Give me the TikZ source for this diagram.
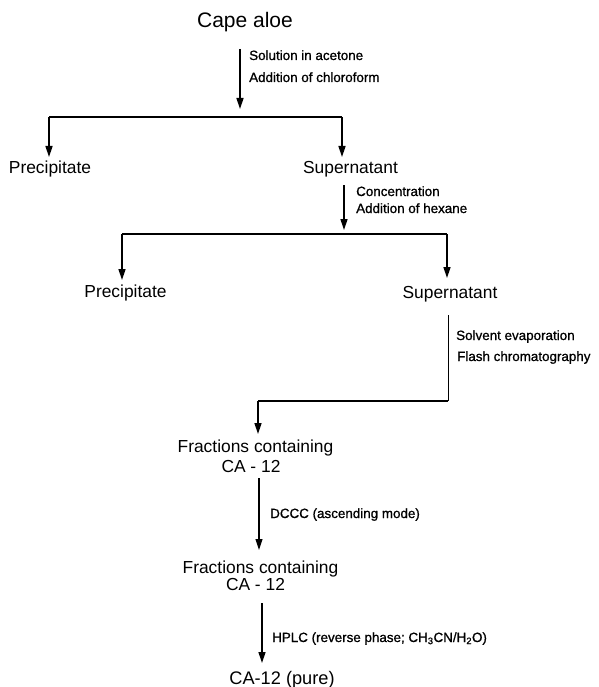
\documentclass[tikz,border=0pt]{standalone}
\usepackage{fontspec}
\setmainfont{Liberation Sans}
\newfontfamily\steplabelfont[FakeBold=0.9]{Liberation Sans}
\usetikzlibrary{arrows.meta}
\begin{document}
\begin{tikzpicture}[x=1pt,y=-1pt,
  main/.style={font=\fontsize{17.4}{20}\selectfont, anchor=base, inner sep=0pt},
  big/.style={font=\fontsize{21}{24}\selectfont, anchor=base, inner sep=0pt},
  step label/.style={font=\steplabelfont\fontsize{13.4}{16}\selectfont, anchor=base west, inner sep=0pt},
  flow/.style={line width=1.4pt, -{Triangle[length=11pt,width=7pt]}},
  bar/.style={line width=1.8pt},
  thin line/.style={line width=1pt}]
\useasboundingbox (0,0) rectangle (598,687);
% texts
\node[big]  (cape)  at (245,28)  {Cape aloe};
\node[main] (prec1) at (50,174)  {Precipitate};
\node[main] (sup1)  at (350.5,174) {Supernatant};
\node[main] (prec2) at (125.5,297) {Precipitate};
\node[main] (sup2)  at (450,298) {Supernatant};
\node[main] (frac1) at (255.5,452) {Fractions containing};
\node[main] (ca1)   at (251,472) {CA - 12};
\node[main] (frac2) at (260.5,573) {Fractions containing};
\node[main] (ca2)   at (255.5,590) {CA - 12};
\node[font=\fontsize{18.2}{21}\selectfont, anchor=base, inner sep=0pt] (pure) at (282,684) {CA-12 (pure)};
% step labels
\node[step label] (l1a) at (249,60)  {Solution in acetone};
\node[step label] (l1b) at (249,82)  {Addition of chloroform};
\node[step label] (l2a) at (356,196) {Concentration};
\node[step label] (l2b) at (356,213) {Addition of hexane};
\node[step label] (l3a) at (456,340) {Solvent evaporation};
\node[step label] (l3b) at (457,361) {Flash chromatography};
\node[step label] (l4)  at (270,518) {DCCC (ascending mode)};
\node[step label] (l5)  at (272,642) {HPLC (reverse phase; CH\textsubscript{3}CN/H\textsubscript{2}O)};
% coordinates
\coordinate (a1s) at (240,49);
\coordinate (a1e) at (240,109);
\coordinate (b1l) at (49,117);
\coordinate (b1r) at (342,117);
\coordinate (b1lt) at (49,157);
\coordinate (b1rt) at (342,157);
\coordinate (a2s) at (344,185);
\coordinate (a2e) at (344,230);
\coordinate (b2l) at (122,234);
\coordinate (b2r) at (447,234);
\coordinate (b2lt) at (122,280);
\coordinate (b2rt) at (447,278);
\coordinate (c3s) at (448,315);
\coordinate (c3c) at (448,401);
\coordinate (c3d) at (258,401);
\coordinate (c3e) at (258,434);
\coordinate (a4s) at (259,478);
\coordinate (a4e) at (259,550);
\coordinate (a5s) at (262,603);
\coordinate (a5e) at (262,663);
% connectors
\draw[flow] (a1s) -- (a1e);
\draw[bar] (b1l) -- (b1r);
\draw[flow, line width=1.6pt] (b1l) -- (b1lt);
\draw[flow, line width=1.6pt] (b1r) -- (b1rt);
\draw[flow] (a2s) -- (a2e);
\draw[bar] (b2l) -- (b2r);
\draw[flow, line width=1.6pt] (b2l) -- (b2lt);
\draw[flow, line width=1.6pt] (b2r) -- (b2rt);
\draw[thin line] (c3s) -- (c3c);
\draw[bar] (c3c) -- (c3d);
\draw[flow, line width=1.6pt] (c3d) -- (c3e);
\draw[flow, line width=1.1pt] (a4s) -- (a4e);
\draw[flow, line width=1.3pt] (a5s) -- (a5e);
\end{tikzpicture}
\end{document}
